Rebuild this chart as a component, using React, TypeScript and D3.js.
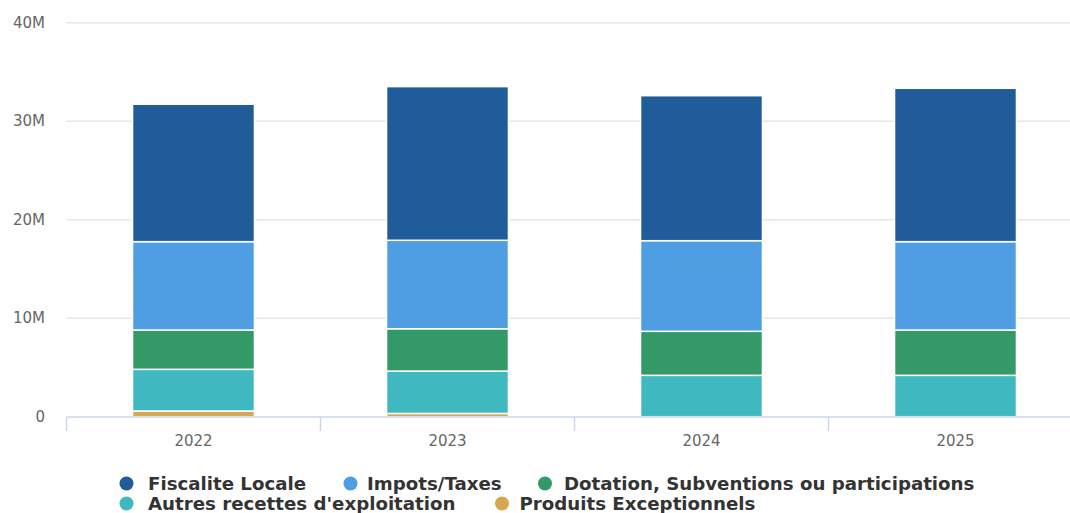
import React from "react";
import * as d3 from "d3";

const categories = ["2022", "2023", "2024", "2025"];
const seriesNames = [
  "Fiscalite Locale",
  "Impots/Taxes",
  "Dotation, Subventions ou participations",
  "Autres recettes d'exploitation",
  "Produits Exceptionnels",
];
const seriesColors = ["#1f5c99", "#4f9de3", "#339966", "#40b8c0", "#d6a653"];
// values in millions, per series (top of stack first)
const fiscaliteLocale = [13.95, 15.6, 14.72, 15.57];
const impotsTaxes = [8.97, 8.98, 9.2, 8.97];
const dotation = [3.99, 4.3, 4.47, 4.6];
const autresRecettes = [4.23, 4.3, 4.2, 4.2];
const produitsExceptionnels = [0.58, 0.33, 0, 0];
const yTicks = [0, 10, 20, 30, 40];
const yTickLabels = ["0", "10M", "20M", "30M", "40M"];

const W = 1070;
const H = 513;

export default function App() {
  const seriesValues = [fiscaliteLocale, impotsTaxes, dotation, autresRecettes, produitsExceptionnels];
  const x = d3.scaleBand<string>().domain(categories).range([66.5, 1082.5]).padding(0);
  const y = d3.scaleLinear().domain([0, 40]).range([416.7, 22.7]);
  const step = x.bandwidth();
  const barW = step * 0.6 * 0.8;

  const rows = categories.map((c, i) => {
    const r: any = { cat: c };
    seriesNames.forEach((s, k) => (r[s] = seriesValues[k][i]));
    return r;
  });
  const stackKeys = [...seriesNames].reverse();
  const stacked = d3.stack<any>().keys(stackKeys)(rows);

  const font = "'DejaVu Sans', Verdana, sans-serif";

  const legendItems = [
    { idx: 0, cx: 126.5, tx: 148, cy: 483.5 },
    { idx: 1, cx: 350.5, tx: 367, cy: 483.5 },
    { idx: 2, cx: 545, tx: 564, cy: 483.5 },
    { idx: 3, cx: 126.5, tx: 148, cy: 503.5 },
    { idx: 4, cx: 502, tx: 519.5, cy: 503.5 },
  ];

  return (
    <div style={{ position: "fixed", left: 0, top: 0, width: W, height: H, background: "#fff" }}>
      <svg width={W} height={H} style={{ display: "block" }}>
        <rect x={0} y={0} width={W} height={H} fill="#ffffff" />
        {yTicks.map((t, i) => (
          <g key={t}>
            {t !== 0 && (
              <line x1={66.5} x2={W} y1={y(t)} y2={y(t)} stroke="#e6e6e6" strokeWidth={1.5} />
            )}
            <text
              x={45}
              y={y(t)}
              dy="0.35em"
              textAnchor="end"
              fontFamily={font}
              fontSize={15}
              fill="#666666"
            >
              {yTickLabels[i]}
            </text>
          </g>
        ))}
        {stacked.map((layer) => {
          const k = seriesNames.indexOf(layer.key);
          return (
            <g key={layer.key}>
              {layer.map((d, i) => {
                if (d[1] - d[0] <= 0) return null;
                const cx = (x(categories[i]) as number) + step / 2;
                return (
                  <rect
                    key={i}
                    x={cx - barW / 2}
                    y={y(d[1])}
                    width={barW}
                    height={y(d[0]) - y(d[1])}
                    fill={seriesColors[k]}
                    stroke="#ffffff"
                    strokeWidth={1.5}
                  />
                );
              })}
            </g>
          );
        })}
        <line x1={66.5} x2={W} y1={417} y2={417} stroke="#ccd6eb" strokeWidth={1.5} />
        {categories.map((c) => {
          const x0 = x(c) as number;
          return (
            <g key={c}>
              <line x1={x0} x2={x0} y1={417} y2={431} stroke="#ccd6eb" strokeWidth={1.5} />
              <text
                x={x0 + step / 2}
                y={441}
                dy="0.35em"
                textAnchor="middle"
                fontFamily={font}
                fontSize={15}
                fill="#666666"
              >
                {c}
              </text>
            </g>
          );
        })}
        {legendItems.map((it) => (
          <g key={it.idx}>
            <circle cx={it.cx} cy={it.cy} r={7} fill={seriesColors[it.idx]} />
            <text
              x={it.tx}
              y={it.cy}
              dy="0.36em"
              fontFamily={font}
              fontSize={18.2}
              fontWeight="bold"
              fill="#333333"
            >
              {seriesNames[it.idx]}
            </text>
          </g>
        ))}
      </svg>
    </div>
  );
}
